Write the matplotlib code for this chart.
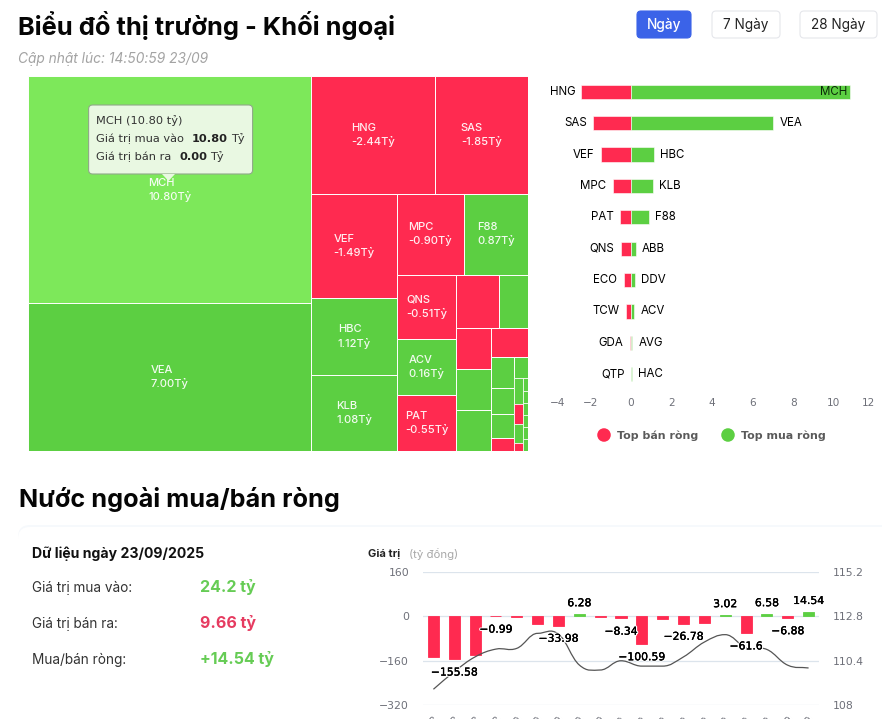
"""Market chart: foreign investors treemap, top net bars and daily net flow."""
import matplotlib
matplotlib.use('Agg')
import matplotlib.pyplot as plt
import matplotlib.patheffects as pe
from matplotlib.patches import FancyBboxPatch, PathPatch, Polygon, Rectangle
from matplotlib.path import Path
import numpy as np

W,H=882,719
RED='#FF2A50';GREEN='#5CCF42';LIGHT='#7DE85A';GREY='#6E7079'

# treemap: area weight of each cell, net value shown in the label
TM_NAMES=['MCH','VEA','HNG','SAS','VEF','HBC','KLB','MPC','F88','QNS','ACV','PAT',
          '','','','','','','','','','','','','','','','','','','','','']
TM_SIZES=[10.8,7.0,2.44,1.85,1.49,1.12,1.08,.90,.87,.64,.56,.55,
          .38,.26,.24,.24,.235,.18,.12,.10,.09,.05,.05,.039,.031,.029,.011,.010,.010,.010,.010,.010,.009]
TM_SIGN=[1,1,-1,-1,-1,1,1,-1,1,-1,1,-1,-1,1,-1,1,1,-1,1,1,1,-1,1,1,-1,1,-1,1,1,1,1,1,1]
TM_LABELS=['10.80Tỷ','7.00Tỷ','-2.44Tỷ','-1.85Tỷ','-1.49Tỷ','1.12Tỷ','1.08Tỷ','-0.90Tỷ','0.87Tỷ','-0.51Tỷ','0.16Tỷ','-0.55Tỷ']
# how the cells nest: 'x' splits along the width, 'y' along the height, numbers index the lists above
TM_TINY=['x',['y',23,24,25,26],['y',27,28,29,30,31,32]]
TM_SMALL=['x',['y',18,19,20,21],['y',22,TM_TINY]]
TM_LOW=['x',['y',14,15,16],['y',17,TM_SMALL]]
TM_MID=['x',['y',9,10,11],['y',['x',12,13],TM_LOW]]
TM_TREE=['x',['y',0,1],['y',['x',2,3],['x',['y',4,5,6],['y',['x',7,8],TM_MID]]]]

SELL_NAMES=['HNG','SAS','VEF','MPC','PAT','QNS','ECO','TCW','GDA','QTP']
SELL_VALUES=[-2.44,-1.85,-1.49,-.90,-.55,-.51,-.36,-.23,-.05,-.01]
BUY_NAMES=['MCH','VEA','HBC','KLB','F88','ABB','DDV','ACV','AVG','HAC']
BUY_VALUES=[10.8,7.0,1.12,1.08,.87,.23,.2,.16,.07,.05]
BAR_TICKS=[-4,-2,0,2,4,6,8,10,12]

DATES=['26/08','27/08','28/08','29/08','03/09','04/09','05/09','08/09','09/09','10/09','11/09','12/09',
       '15/09','16/09','17/09','18/09','19/09','22/09','23/09']
NET=[-148,-155.58,-139,-.99,-2,-29,-33.98,6.28,-2,-8.34,-100.59,-10,-26.78,-24,3.02,-61.6,6.58,-6.88,14.54]
NET_SHOWN=[1,3,6,7,9,10,12,14,15,16,17,18]
PRICE=[108.85,109.8,110.6,111.02,111.06,111.87,111.83,110.16,109.89,110.39,110.1,110.1,110.6,111.4,111.8,111.1,111.0,110.15,110.0]
LEFT_TICKS=[-320,-160,0,160]
RIGHT_TICKS=[108,110.4,112.8,115.2]

STATS=[('Giá trị mua vào:','24.2 tỷ','#66CC55'),('Giá trị bán ra:','9.66 tỷ','#E63B60'),('Mua/bán ròng:','+14.54 tỷ','#66CC55')]


def px_axes(fig,x0,y0,x1,y1,**kw):
    return fig.add_axes([x0/W,1-y1/H,(x1-x0)/W,(y1-y0)/H],**kw)


def weight(node):
    return TM_SIZES[node] if isinstance(node,int) else sum(weight(c) for c in node[1:])


def layout(node,x,y,w,h,out):
    if isinstance(node,int):
        out[node]=(x,y,w,h);return
    total=weight(node)
    for c in node[1:]:
        f=weight(c)/total
        if node[0]=='x':
            layout(c,x,y,w*f,h,out);x+=w*f
        else:
            layout(c,x,y,w,h*f,out);y+=h*f


def treemap(ax):
    ax.set_xlim(0,1);ax.set_ylim(1,0);ax.axis('off')
    rects={};layout(TM_TREE,0,0,1,1,rects)
    for i,(x,y,w,h) in rects.items():
        color=LIGHT if i==0 else (GREEN if TM_SIGN[i]>0 else RED)
        ax.add_patch(Rectangle((x,y),w,h,fc=color,ec='white',lw=.7 if w>.02 else .5))
        if TM_NAMES[i]:
            ax.text(x+w/2,y+h/2,TM_NAMES[i]+'\n'+TM_LABELS[i],color='#FFFFFF',fontsize=8,family='Inter',weight='medium',
                    va='center',ha='center',multialignment='left',linespacing=1.35,alpha=.92)


def top_bars(ax):
    y=np.arange(len(SELL_VALUES))
    ax.barh(y,SELL_VALUES,height=.45,color=RED,edgecolor='white',lw=.4)
    ax.barh(y,BUY_VALUES,height=.45,color=GREEN,edgecolor='white',lw=.4)
    ax.set_xlim(BAR_TICKS[0],BAR_TICKS[-1]);ax.set_ylim(len(y)-.5,-.5)
    txt=dict(va='center',fontsize=8.3,family='Inter',textcoords='offset points')
    for i in y:
        ax.annotate(SELL_NAMES[i],(SELL_VALUES[i],i),xytext=(-4.5,0),ha='right',**txt)
        if BUY_VALUES[i]>10:
            ax.annotate(BUY_NAMES[i],(BUY_VALUES[i],i),xytext=(-2.5,0),ha='right',color='#0B2A08',**txt)
        else:
            ax.annotate(BUY_NAMES[i],(BUY_VALUES[i],i),xytext=(4.5,0),ha='left',**txt)
    ax.set_yticks([]);ax.set_xticks(BAR_TICKS,[str(t).replace('-','−') for t in BAR_TICKS])
    ax.tick_params(axis='x',length=0,pad=6,labelsize=7.6,labelcolor=GREY)
    ax.get_xticklabels()[0].set_ha('left');ax.get_xticklabels()[-1].set_ha('right')
    for s in ax.spines.values():s.set_visible(False)
    ax.patch.set_alpha(0)


def smooth_path(x,y):
    # bezier through the points, tangents flattened at local turning points
    x=np.asarray(x,float);y=np.asarray(y,float)
    verts=[(x[0],y[0])];codes=[Path.MOVETO]
    m=np.zeros(len(y))
    for i in range(1,len(y)-1):
        if (y[i]-y[i-1])*(y[i+1]-y[i])>0:m[i]=(y[i+1]-y[i-1])/2
    m[0]=y[1]-y[0];m[-1]=y[-1]-y[-2]
    for i in range(len(y)-1):
        dx=x[i+1]-x[i]
        verts+=[(x[i]+dx*.4,y[i]+m[i]*.4),(x[i+1]-dx*.4,y[i+1]-m[i+1]*.4),(x[i+1],y[i+1])]
        codes+=[Path.CURVE4]*3
    return Path(verts,codes)


def net_flow(ax):
    x=np.arange(len(NET))
    colors=[GREEN if v>0 else RED for v in NET]
    ax.set_xlim(-.5,len(NET)-.5);ax.set_ylim(LEFT_TICKS[0],LEFT_TICKS[-1])
    ax.bar(x,NET,width=.53,color=colors,edgecolor=colors,lw=.6,zorder=3)
    ax.set_yticks(LEFT_TICKS,[str(t).replace('-','−') for t in LEFT_TICKS])
    ax.grid(axis='y',color='#DCE4EC',lw=.9);ax.set_axisbelow(True)
    ax.tick_params(axis='y',length=0,pad=10,labelsize=7.8,labelcolor=GREY)
    ax.set_xticks(x,DATES,rotation=45,ha='right',rotation_mode='anchor')
    ax.tick_params(axis='x',length=0,pad=7,labelsize=7.2,labelcolor=GREY)
    for s in ax.spines.values():s.set_visible(False)
    rx=ax.twinx();rx.set_ylim(RIGHT_TICKS[0],RIGHT_TICKS[-1])
    rx.set_yticks(RIGHT_TICKS,[str(t) for t in RIGHT_TICKS])
    rx.tick_params(axis='y',length=0,pad=10,labelsize=7.8,labelcolor=GREY)
    for s in rx.spines.values():s.set_visible(False)
    rx.add_patch(PathPatch(smooth_path(x,PRICE),fc='none',ec='#555555',lw=.9,zorder=4))
    for i in NET_SHOWN:
        v=NET[i]
        rx.annotate(f'{v:g}'.replace('-','−'),(i,np.interp(v,LEFT_TICKS,RIGHT_TICKS)),xytext=(0,-9.5 if v<0 else 8),textcoords='offset points',
                    ha='center',va='center',fontsize=7.8,color='black',zorder=6,
                    path_effects=[pe.withStroke(linewidth=1.8,foreground='white'),pe.withStroke(linewidth=.12,foreground='black')])


def page(ax):
    ax.set_xlim(0,W);ax.set_ylim(H,0);ax.axis('off')
    T=lambda x,y,s,**k:ax.text(x,y,s,va='center',family=k.pop('family','Inter'),**k)
    T(18,25,'Biểu đồ thị trường - Khối ngoại',fontsize=18.35,weight='bold',color='#050505')
    T(18,59,'Cập nhật lúc: 14:50:59 23/09',fontsize=9.9,style='italic',color='#A3A3A3')
    T(19,500,'Nước ngoài mua/bán ròng',fontsize=18.15,weight='bold',color='#050505')
    for x0,x1,label,fc,ec,tc in ((637,691,'Ngày','#3B63E8','#3B63E8','white'),(712,780,'7 Ngày','white','#E5E7EB','#222222'),(800,877,'28 Ngày','white','#E5E7EB','#222222')):
        ax.add_patch(FancyBboxPatch((x0+4,15),x1-x0-8,19,boxstyle='round,pad=4',fc=fc,ec=ec,lw=.8))
        ax.text((x0+x1)/2,25,label,ha='center',va='center',color=tc,fontsize=9.8,family='Inter',weight='medium' if fc!='white' else 'normal')
    # card under the bottom section
    ax.add_patch(FancyBboxPatch((30,537),900,300,boxstyle='round,pad=12',fc='#F6F9FC',ec='none',zorder=0))
    ax.add_patch(FancyBboxPatch((30,539),900,300,boxstyle='round,pad=12',fc='white',ec='none',zorder=.5))
    T(32,554,'Dữ liệu ngày 23/09/2025',fontsize=10.1,weight='bold',color='#111111')
    for (label,val,color),y in zip(STATS,(588,624,660)):
        T(32,y,label,fontsize=9.8,color='#333333')
        T(200,y-1,val,fontsize=11.5,weight='bold',color=color)
    T(368,554,'Giá trị',fontsize=8,weight='bold',color='#222222')
    T(409,554,'(tỷ đồng)',fontsize=8.2,color='#A8A8A8')
    # legend of the top bars
    ax.scatter([604,728],[435,435],s=95,c=[RED,GREEN],linewidths=0)
    T(617,436,'Top bán ròng',fontsize=7.9,color='#5A5A5A',family='DejaVu Sans',weight='bold')
    T(741,436,'Top mua ròng',fontsize=7.9,color='#5A5A5A',family='DejaVu Sans',weight='bold')


def tooltip(ax):
    ax.add_patch(FancyBboxPatch((92.6,109),156,61,boxstyle='round,pad=4',fc='#E9F8E2',ec='#8FA888',lw=.8,zorder=10))
    ax.add_patch(Polygon([(162,174),(175,174),(168.5,181)],fc='#E9F8E2',ec='none',zorder=11))
    kw=dict(fontsize=8.2,family='DejaVu Sans',color='#333333',va='center',zorder=12)
    ax.text(95.5,121,'MCH (10.80 tỷ)',**kw)
    ax.text(95.5,139,'Giá trị mua vào',**kw)
    ax.text(95.5,157,'Giá trị bán ra',**kw)
    bold=dict(kw,weight='bold',color='#222222')
    ax.text(192,139,'10.80',**bold);ax.text(231,139,'Tỷ',**kw)
    ax.text(179,157,'0.00',**bold);ax.text(210,157,'Tỷ',**kw)


def main():
    fig=plt.figure(figsize=(W/100,H/100),dpi=100,facecolor='white')
    bg=px_axes(fig,0,0,W,H);bg.set_zorder(0);page(bg)
    tm=px_axes(fig,28,76,528,450.5);tm.set_zorder(1);treemap(tm)
    bars=px_axes(fig,549.8,76,874.6,390);bars.set_zorder(1);top_bars(bars)
    flow=px_axes(fig,423,571.7,819,705);flow.set_zorder(1);flow.patch.set_alpha(0);net_flow(flow)
    top=px_axes(fig,0,0,W,H);top.set_zorder(5);top.set_xlim(0,W);top.set_ylim(H,0);top.axis('off');tooltip(top)
    fig.savefig('out.png',dpi=100)


if __name__=='__main__':main()
